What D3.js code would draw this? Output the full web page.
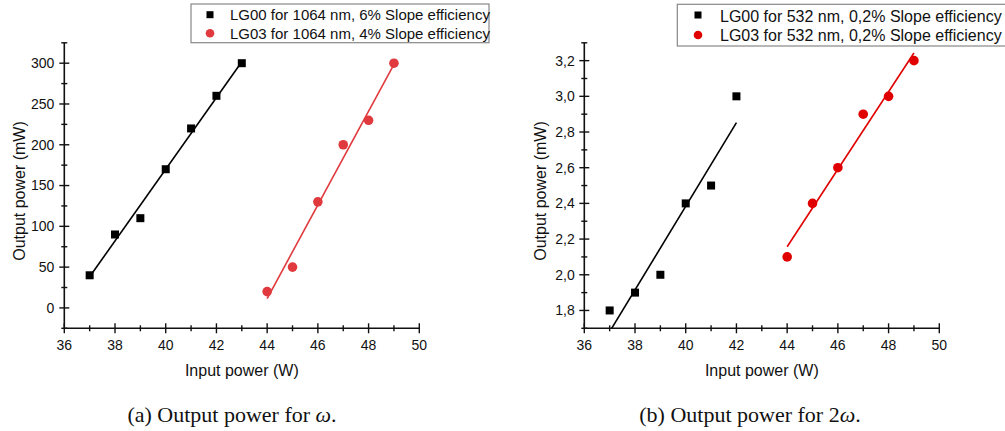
<!DOCTYPE html>
<html><head><meta charset="utf-8">
<script src="https://cdn.jsdelivr.net/npm/d3@7"></script>
<style>
html,body{margin:0;padding:0;background:#fff;}
svg{display:block;}
text{font-family:"Liberation Sans",Arial,sans-serif;fill:#111;}
</style></head>
<body>
<svg id="chart" width="1005" height="431"></svg>
<script>
// ---- data ----
const xTicksMajor = [36, 38, 40, 42, 44, 46, 48, 50];
const leftYTicks = [0, 50, 100, 150, 200, 250, 300];
const rightYTicks = [1.8, 2.0, 2.2, 2.4, 2.6, 2.8, 3.0, 3.2];

const leftBlackX = [37, 38, 39, 40, 41, 42, 43];
const leftBlackY = [40, 90, 110, 170, 220, 260, 300];
const leftRedX = [44, 45, 46, 47, 48, 49];
const leftRedY = [20, 50, 130, 200, 230, 300];

const rightBlackX = [37, 38, 39, 40, 41, 42];
const rightBlackY = [1.8, 1.9, 2.0, 2.4, 2.5, 3.0];
const rightRedX = [44, 45, 46, 47, 48, 49];
const rightRedY = [2.1, 2.4, 2.6, 2.9, 3.0, 3.2];

const leftLegend = ["LG00 for 1064 nm, 6% Slope efficiency", "LG03 for 1064 nm, 4% Slope efficiency"];
const rightLegend = ["LG00 for 532 nm, 0,2% Slope efficiency", "LG03 for 532 nm, 0,2% Slope efficiency"];

const svg = d3.select("#chart");

function fit(xs, ys) {
  const mx = d3.mean(xs), my = d3.mean(ys);
  let sxy = 0, sxx = 0;
  xs.forEach((x, i) => { sxy += (x - mx) * (ys[i] - my); sxx += (x - mx) * (x - mx); });
  const b = sxy / sxx, a = my - b * mx;
  const x0 = d3.min(xs), x1 = d3.max(xs);
  return [[x0, a + b * x0], [x1, a + b * x1]];
}

function panel(cfg) {
  const g = svg.append("g");
  const x = d3.scaleLinear().domain([36, 50]).range([cfg.left, cfg.left + 355]);
  const y = d3.scaleLinear().domain(cfg.yDomain).range([328.3, 42.8]);
  const id = "clip" + cfg.key;
  svg.append("clipPath").attr("id", id).append("rect")
    .attr("x", x.range()[0]).attr("y", y.range()[1])
    .attr("width", 355).attr("height", y.range()[0] - y.range()[1]);

  // axes lines
  g.append("line").attr("x1", x(36)).attr("x2", x(50)).attr("y1", y.range()[0]).attr("y2", y.range()[0])
    .attr("stroke", "#111").attr("stroke-width", 1.6);
  g.append("line").attr("x1", x(36)).attr("x2", x(36)).attr("y1", y.range()[0]).attr("y2", y.range()[1])
    .attr("stroke", "#111").attr("stroke-width", 1.6);

  // x ticks
  const xMinor = d3.range(37, 50, 2);
  const y0 = y.range()[0];
  g.selectAll(".xmaj").data(xTicksMajor).enter().append("line")
    .attr("x1", d => x(d)).attr("x2", d => x(d)).attr("y1", y0 - 5).attr("y2", y0 + 5)
    .attr("stroke", "#111").attr("stroke-width", 1.4);
  g.selectAll(".xmin").data(xMinor).enter().append("line")
    .attr("x1", d => x(d)).attr("x2", d => x(d)).attr("y1", y0 - 3).attr("y2", y0 + 3)
    .attr("stroke", "#111").attr("stroke-width", 1.4);
  g.selectAll(".xlab").data(xTicksMajor).enter().append("text")
    .attr("x", d => x(d)).attr("y", 350).attr("text-anchor", "middle")
    .attr("font-size", 14).text(d => d);

  // y ticks
  const x0 = x.range()[0];
  g.selectAll(".ymaj").data(cfg.yTicks).enter().append("line")
    .attr("x1", x0 - 5).attr("x2", x0 + 5).attr("y1", d => y(d)).attr("y2", d => y(d))
    .attr("stroke", "#111").attr("stroke-width", 1.4);
  g.selectAll(".ymin").data(cfg.yMinor).enter().append("line")
    .attr("x1", x0 - 3).attr("x2", x0 + 3).attr("y1", d => y(d)).attr("y2", d => y(d))
    .attr("stroke", "#111").attr("stroke-width", 1.4);
  g.selectAll(".ylab").data(cfg.yTicks).enter().append("text")
    .attr("x", x0 - cfg.labelGap).attr("y", d => y(d)).attr("dy", "0.35em").attr("text-anchor", "end")
    .attr("font-size", 14).text(cfg.fmt);

  // titles
  g.append("text").attr("x", x(36) + 177.5 + cfg.xTitleShift).attr("y", 376).attr("text-anchor", "middle")
    .attr("font-size", 16).text("Input power (W)");
  g.append("text").attr("transform", `translate(${cfg.yTitleX},191) rotate(-90)`)
    .attr("text-anchor", "middle").attr("font-size", 16).text("Output power (mW)");

  // caption
  const cap = g.append("text").attr("x", cfg.capX).attr("y", 422).attr("text-anchor", "middle")
    .attr("font-size", 22).style("font-family", "'Liberation Serif','Times New Roman',serif");
  cap.append("tspan").text(cfg.caption);
  cap.append("tspan").attr("font-style", "italic").text("ω");
  cap.append("tspan").text(".");

  // fit lines
  cfg.series.forEach(s => {
    const f = fit(s.xs, s.ys);
    g.append("line").attr("clip-path", `url(#${id})`)
      .attr("x1", x(f[0][0])).attr("y1", y(f[0][1])).attr("x2", x(f[1][0])).attr("y2", y(f[1][1]))
      .attr("stroke", s.color).attr("stroke-width", 1.6);
  });
  // markers
  cfg.series.forEach(s => {
    const pts = s.xs.map((v, i) => [v, s.ys[i]]);
    if (s.shape === "square") {
      g.selectAll(null).data(pts).enter().append("rect")
        .attr("x", d => x(d[0]) - 4).attr("y", d => y(d[1]) - 4).attr("width", 8).attr("height", 8)
        .attr("fill", s.color);
    } else {
      g.selectAll(null).data(pts).enter().append("circle")
        .attr("cx", d => x(d[0])).attr("cy", d => y(d[1])).attr("r", 4.8).attr("fill", s.color);
    }
  });

  // legend
  const L = cfg.legend;
  g.append("rect").attr("x", L.x).attr("y", L.y).attr("width", L.w).attr("height", L.h)
    .attr("fill", "#fff").attr("stroke", "#888").attr("stroke-width", 1.2);
  cfg.series.forEach((s, i) => {
    const cy = L.rows[i];
    if (s.shape === "square") {
      g.append("rect").attr("x", L.mx - 3.5).attr("y", cy - 3.5).attr("width", 7).attr("height", 7).attr("fill", s.color);
    } else {
      g.append("circle").attr("cx", L.mx).attr("cy", cy).attr("r", 4.3).attr("fill", s.color);
    }
    g.append("text").attr("x", L.tx).attr("y", L.base[i]).attr("font-size", L.fs).text(L.labels[i]);
  });
}

const fmtComma = d => d3.format(".1f")(d).replace(".", ",");

panel({
  key: "a", left: 64.3, yDomain: [-25, 325], yTicks: leftYTicks,
  yMinor: d3.range(-25, 330, 50), fmt: d => d, labelGap: 10,
  yTitleX: 25, xTitleShift: 0, capX: 232, caption: "(a) Output power for ",
  series: [
    {xs: leftBlackX, ys: leftBlackY, color: "#000", shape: "square"},
    {xs: leftRedX, ys: leftRedY, color: "#e03a3e", shape: "circle"}
  ],
  legend: {x: 191, y: 4, w: 298, h: 38.7, mx: 210, rows: [14.7, 33.3], tx: 230, base: [20, 39], fs: 15, labels: leftLegend}
});

panel({
  key: "b", left: 584.3, yDomain: [1.7, 3.3], yTicks: rightYTicks,
  yMinor: d3.range(17, 34, 2).map(v => v / 10), fmt: fmtComma, labelGap: 9.5,
  yTitleX: 546, xTitleShift: 0, capX: 750, caption: "(b) Output power for 2",
  series: [
    {xs: rightBlackX, ys: rightBlackY, color: "#000", shape: "square"},
    {xs: rightRedX, ys: rightRedY, color: "#e00000", shape: "circle"}
  ],
  legend: {x: 677.3, y: 4.3, w: 340, h: 41.7, mx: 698, rows: [15, 35], tx: 720, base: [21.7, 41], fs: 16, labels: rightLegend}
});
</script>
</body></html>
